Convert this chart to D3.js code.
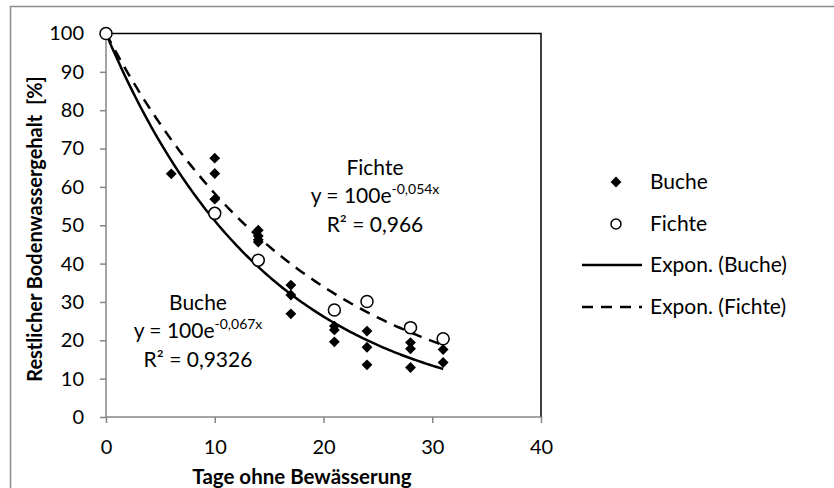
<!DOCTYPE html>
<html>
<head>
<meta charset="utf-8">
<script src="https://cdn.jsdelivr.net/npm/d3@7"></script>
<style>
  body { margin: 0; background: #fff; }
  text { font-family: Lato, "Open Sans", sans-serif; fill: #000; }
</style>
</head>
<body>
<svg id="chart"></svg>
<script>
// Buche (diamonds)
var bucheDays = [0, 6, 10, 10, 10, 14, 14, 14, 14, 17, 17, 17, 21, 21, 21, 24, 24, 24, 28, 28, 28, 31, 31];
var bucheWater = [100, 63.4, 67.5, 63.5, 56.8, 48.7, 47.2, 46.2, 45.6, 34.4, 31.8, 26.9, 23.7, 22.7, 19.6, 22.4, 18.2, 13.6, 19.4, 17.8, 12.9, 17.6, 14.2];
// Fichte (circles)
var fichteDays = [0, 10, 14, 21, 24, 28, 31];
var fichteWater = [100, 53.1, 40.9, 27.9, 30.1, 23.3, 20.4];
// trend lines y = a * e^(b x)
var trendA = [100, 100];
var trendB = [-0.067, -0.054];
var trendEnd = 31;
var xTicks = [0, 10, 20, 30, 40];
var yTicks = [0, 10, 20, 30, 40, 50, 60, 70, 80, 90, 100];

var W = 834, H = 488;
var margin = { top: 33.5, right: 293, bottom: 71, left: 106 },
    width = W - margin.left - margin.right,
    height = H - margin.top - margin.bottom;

var svg = d3.select("#chart").attr("width", W).attr("height", H);

// outer chart border
svg.append("rect")
    .attr("x", 10.5).attr("y", 6.5)
    .attr("width", W + 10).attr("height", H + 10)
    .attr("fill", "none").attr("stroke", "#8c8c8c").attr("stroke-width", 1.5);

var g = svg.append("g")
    .attr("transform", "translate(" + margin.left + "," + margin.top + ")");

var x = d3.scaleLinear().domain([0, 40]).range([0, width]);
var y = d3.scaleLinear().domain([0, 100]).range([height, 0]);

// plot area border (top / right)
g.append("path")
    .attr("d", "M0,0H" + width + "V" + height)
    .attr("fill", "none").attr("stroke", "#000").attr("stroke-width", 1.5);

var xAxis = g.append("g")
    .attr("transform", "translate(0," + height + ")")
    .call(d3.axisBottom(x).tickValues(xTicks).tickSize(6).tickPadding(17));
var yAxis = g.append("g")
    .call(d3.axisLeft(y).tickValues(yTicks).tickSize(6).tickPadding(16));

[xAxis, yAxis].forEach(function (a) {
    a.selectAll("path, line").attr("stroke", "#868686").attr("stroke-width", 1.5);
    a.selectAll("text").style("font-size", "20px").style("font-family", "Lato, sans-serif").attr("fill", "#000");
});
xAxis.selectAll("path.domain").attr("d", "M0,0H" + width);
yAxis.selectAll("path.domain").attr("d", "M0," + height + "V0");

// trend lines
var line = d3.line().x(function (d) { return x(d[0]); }).y(function (d) { return y(d[1]); });
[0, 1].forEach(function (k) {
    var pts = d3.range(0, trendEnd + 0.001, 0.25).map(function (t) {
        return [t, trendA[k] * Math.exp(trendB[k] * t)];
    });
    g.append("path")
        .datum(pts)
        .attr("d", line)
        .attr("fill", "none")
        .attr("stroke", "#000")
        .attr("stroke-width", 2.5)
        .attr("stroke-dasharray", k === 1 ? "11,8" : null);
});

var diamond = d3.symbol().type(d3.symbolDiamond2).size(75);

// Buche points
g.selectAll(".buche")
    .data(bucheDays.map(function (d, i) { return [d, bucheWater[i]]; }))
    .enter().append("path")
    .attr("class", "buche")
    .attr("d", diamond)
    .attr("transform", function (d) { return "translate(" + x(d[0]) + "," + y(d[1]) + ")"; })
    .attr("fill", "#000");

// Fichte points
g.selectAll(".fichte")
    .data(fichteDays.map(function (d, i) { return [d, fichteWater[i]]; }))
    .enter().append("circle")
    .attr("class", "fichte")
    .attr("cx", function (d) { return x(d[0]); })
    .attr("cy", function (d) { return y(d[1]); })
    .attr("r", 6)
    .attr("fill", "#fff")
    .attr("stroke", "#000")
    .attr("stroke-width", 1.5);

// equations
function equation(cx, cy, name, coef, r2) {
    var t = svg.append("g").attr("font-size", "21px").attr("text-anchor", "middle");
    t.append("text").attr("x", cx).attr("y", cy).text(name);
    var eq = t.append("text").attr("x", cx).attr("y", cy + 28);
    eq.append("tspan").text("y = 100e");
    eq.append("tspan").attr("dy", -9).attr("font-size", "14px").text(coef);
    t.append("text").attr("x", cx).attr("y", cy + 57).text("R² = " + r2);
}
equation(375, 175, "Fichte", "-0,054x", "0,966");
equation(198, 310, "Buche", "-0,067x", "0,9326");

// axis titles
svg.append("text")
    .attr("x", 302).attr("y", 484)
    .attr("text-anchor", "middle")
    .attr("font-weight", "bold").attr("font-size", "20.5px")
    .text("Tage ohne Bewässerung");
svg.append("text")
    .attr("transform", "translate(42,229) rotate(-90)")
    .attr("text-anchor", "middle")
    .attr("font-weight", "bold").attr("font-size", "20px")
    .attr("xml:space", "preserve")
    .text("Restlicher Bodenwassergehalt  [%]");

// legend
var legend = svg.append("g").attr("transform", "translate(582,0)");
var items = [
    { label: "Buche", y: 182, kind: "diamond" },
    { label: "Fichte", y: 224, kind: "circle" },
    { label: "Expon. (Buche)", y: 265, kind: "solid" },
    { label: "Expon. (Fichte)", y: 307, kind: "dashed" }
];
items.forEach(function (it) {
    if (it.kind === "diamond") {
        legend.append("path").attr("d", diamond).attr("transform", "translate(34," + it.y + ")");
    } else if (it.kind === "circle") {
        legend.append("circle").attr("cx", 34).attr("cy", it.y).attr("r", 5)
            .attr("fill", "#fff").attr("stroke", "#000").attr("stroke-width", 1.5);
    } else {
        legend.append("line").attr("x1", 0).attr("x2", 60).attr("y1", it.y).attr("y2", it.y)
            .attr("stroke", "#000").attr("stroke-width", 2.5)
            .attr("stroke-dasharray", it.kind === "dashed" ? "11,8" : null);
    }
    legend.append("text").attr("x", 68).attr("y", it.y).attr("dy", "0.35em")
        .attr("font-size", "21px").text(it.label);
});
</script>
</body>
</html>
